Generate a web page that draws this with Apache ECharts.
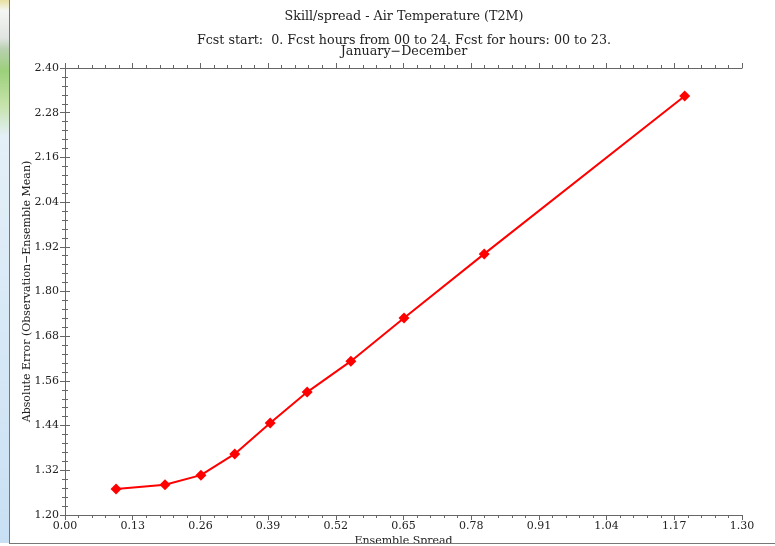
<!DOCTYPE html>
<html><head><meta charset="utf-8">
<script src="https://cdn.jsdelivr.net/npm/echarts@6/dist/echarts.min.js"></script>
<style>html,body{margin:0;padding:0;background:#fff}#c{width:775px;height:546px}</style>
</head><body><div id="c"></div>
<script>
const spread = [0.098, 0.192, 0.261, 0.326, 0.394, 0.465, 0.549, 0.651, 0.805, 1.190];
const absError = [1.270, 1.281, 1.307, 1.364, 1.447, 1.530, 1.613, 1.729, 1.901, 2.325];
const titleText = 'Skill/spread - Air Temperature (T2M)';
const subText1 = 'Fcst start:  0. Fcst hours from 00 to 24. Fcst for hours: 00 to 23.';
const subText2 = 'January\u2212December';
const xName = 'Ensemble Spread';
const yName = 'Absolute Error (Observation\u2212Ensemble Mean)';

const FONT = 'DejaVu Serif';
const axCol = '#666';
const chart = echarts.init(document.getElementById('c'), null, {renderer: 'canvas'});
const common = {
  axisLine: {show: true, lineStyle: {color: axCol, width: 1}},
  axisTick: {show: true, length: 5, lineStyle: {color: axCol}},
  minorTick: {show: true, splitNumber: 5, length: 3, lineStyle: {color: axCol}},
  splitLine: {show: false},
};
const txt = (s, y) => ({type: 'text', x: 404, y: y, z: 50,
  style: {text: s, align: 'center', verticalAlign: 'middle', fill: '#222',
    font: 'normal 12.7px "DejaVu Serif"'}});
chart.setOption({
  animation: false,
  backgroundColor: '#fff',
  grid: {left: 65, right: 33, top: 68, bottom: 31, containLabel: false, outerBoundsMode: 'none'},
  xAxis: [
    Object.assign({type: 'value', min: 0, max: 1.3, interval: 0.13, position: 'bottom',
      name: xName, nameLocation: 'middle', nameGap: 21, nameMoveOverlap: false,
      nameTextStyle: {fontFamily: FONT, fontSize: 11, color: '#222'},
      axisLabel: {fontFamily: FONT, fontSize: 11, color: '#222', margin: 6, formatter: v => v.toFixed(2)}}, common),
    Object.assign({type: 'value', min: 0, max: 1.3, interval: 0.13, position: 'top',
      axisLabel: {show: false}}, common)
  ],
  yAxis: [
    Object.assign({type: 'value', min: 1.2, max: 2.4, interval: 0.12, position: 'left',
      name: yName, nameLocation: 'middle', nameGap: 32, nameMoveOverlap: false,
      nameTextStyle: {fontFamily: FONT, fontSize: 11, color: '#222'},
      axisLabel: {fontFamily: FONT, fontSize: 11, color: '#222', margin: 6, formatter: v => v.toFixed(2)}}, common),
    Object.assign({type: 'value', min: 1.2, max: 2.4, interval: 0.12, position: 'right',
      axisLabel: {show: false}}, common)
  ],
  series: [{
    type: 'line',
    data: spread.map((x, i) => [x, absError[i]]),
    lineStyle: {color: '#ff0000', width: 2},
    itemStyle: {color: '#ff0000'},
    symbol: 'diamond',
    symbolSize: 11,
    showSymbol: true
  }],
  graphic: [
    txt(titleText, 17), txt(subText1, 41), txt(subText2, 52),
    {type: 'rect', left: 0, top: 0, shape: {width: 9, height: 546}, z: 100,
      style: {fill: new echarts.graphic.LinearGradient(0, 0, 0, 1, [
        {offset: 0, color: '#e8e0a0'}, {offset: 0.02, color: '#f4f6f4'},
        {offset: 0.07, color: '#e0e4e0'}, {offset: 0.09, color: '#b8d0b0'},
        {offset: 0.13, color: '#9cd07a'}, {offset: 0.19, color: '#c4e2a8'},
        {offset: 0.25, color: '#e4f0f8'}, {offset: 1, color: '#c8e0f4'}])}},
    {type: 'rect', left: 9, top: 0, shape: {width: 1, height: 546}, z: 100, style: {fill: '#777'}},
    {type: 'rect', left: 0, top: 543, shape: {width: 775, height: 3}, z: 100, style: {fill: '#fff'}},
    {type: 'rect', left: 9, top: 543, shape: {width: 766, height: 1}, z: 101, style: {fill: '#777'}}
  ]
});
</script></body></html>
